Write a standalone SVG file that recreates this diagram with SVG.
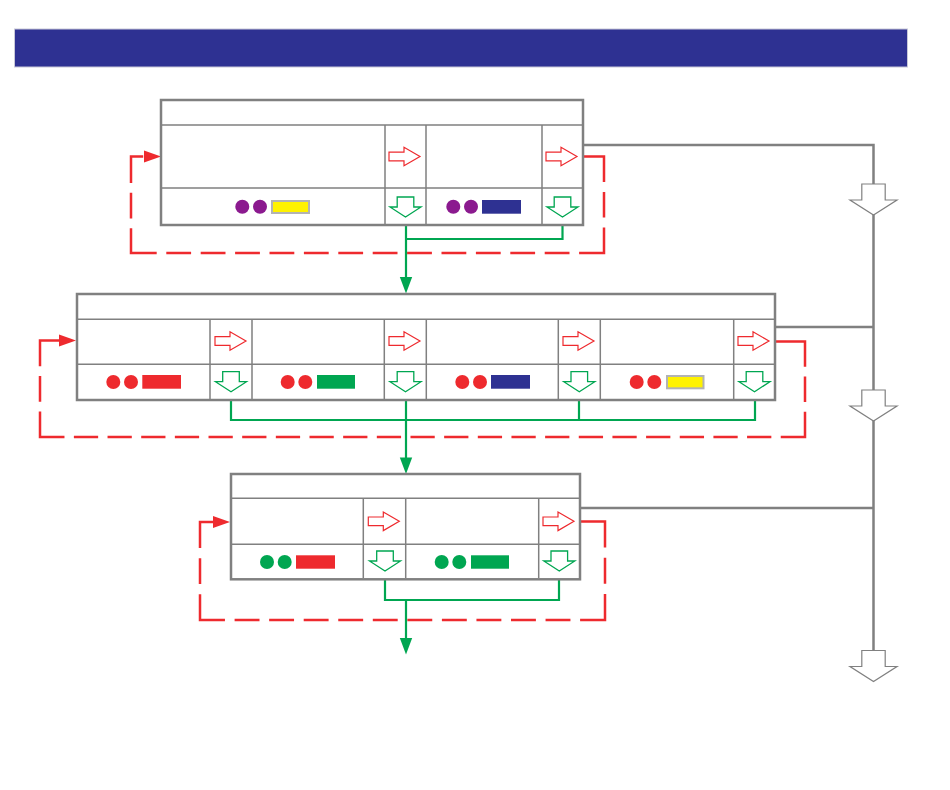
<svg xmlns="http://www.w3.org/2000/svg" width="950" height="790" viewBox="0 0 950 790">
<style>
.outer{fill:#fff;stroke:#808080;stroke-width:2.5}
.inner{stroke:#808080;stroke-width:1.5;fill:none}
.ra{fill:#fff;stroke:#ee2a2e;stroke-width:1.2}
.ga{fill:#fff;stroke:#00a651;stroke-width:1.3}
.gyarr{fill:#fff;stroke:#808080;stroke-width:1.2}
.gline{stroke:#00a651;stroke-width:2.2;fill:none}
.gray{stroke:#808080;stroke-width:2.5;fill:none}
.dash{stroke:#ee2a2e;stroke-width:2.5;fill:none;stroke-linejoin:miter}
.pu{fill:#8b1a8f}.rd{fill:#ee2a2e}.gn{fill:#00a651}.nv{fill:#2e3192}
.ye{fill:#fff200;stroke:#b3b3b3;stroke-width:2}
</style>
<defs>
<path id="rarrow" d="M-31,-4.3 H-16 V-9.3 L0,0 L-16,9.3 V4.3 H-31 Z"/>
<path id="garrow" d="M-8.3,-20 H8.3 V-10 H15.5 L0,0 L-15.5,-10 H-8.3 Z"/>
<path id="gyarrow" d="M-11.7,-31 H11.7 V-15 H23.5 L0,0 L-23.5,-15 H-11.7 Z"/>
<path id="ghead" d="M-6.2,-16.5 H6.2 L0,0 Z"/>
<path id="rhead" d="M-17,-6 V6 L0,0 Z"/>
</defs>
<rect id="title-bar" x="14.5" y="29" width="893" height="38" fill="#2e3192" stroke="#c8c8d8" stroke-width="1"/>
<g id="connectors">
<path class="gray" d="M583,145 H873.5 V650"/>
<path class="gray" d="M775,327 H873.5"/>
<path class="gray" d="M580,508 H873.5"/>
<use href="#gyarrow" class="gyarr" x="873.5" y="215"/>
<use href="#gyarrow" class="gyarr" x="873.5" y="421"/>
<use href="#gyarrow" class="gyarr" x="873.5" y="681.5"/>
<path class="dash" d="M583,156.5 H604 V253 H131 V156.5 H144" stroke-dasharray="46.6 9.9 25.6 9.9 50.4 9.6 24.8 9.6 24.8 9.6 24.8 9.6 24.8 9.6 24.8 9.6 24.8 9.6 24.8 9.6 24.8 9.6 24.8 9.6 24.8 9.6 24.8 9.6 24.8 9.6 50.4 9.9 25.6 9.9 38.6 200"/>
<use href="#rhead" x="161" y="156.5" fill="#ee2a2e"/>
<path class="dash" d="M775,341.5 H805 V437 H40 V340.5 H60" stroke-dasharray="55.3 9.8 25.3 9.8 49.56 9.4 24.26 9.4 24.26 9.4 24.26 9.4 24.26 9.4 24.26 9.4 24.26 9.4 24.26 9.4 24.26 9.4 24.26 9.4 24.26 9.4 24.26 9.4 24.26 9.4 24.26 9.4 24.26 9.4 24.26 9.4 24.26 9.4 24.26 9.4 24.26 9.4 24.26 9.4 24.26 9.4 24.26 9.4 49.86 9.9 25.6 9.9 45.6 200"/>
<use href="#rhead" x="76" y="340.5" fill="#ee2a2e"/>
<path class="dash" d="M580,521.5 H605 V620 H200 V522 H214" stroke-dasharray="51.1 10.1 26.1 10.1 51 9.65 24.9 9.65 24.9 9.65 24.9 9.65 24.9 9.65 24.9 9.65 24.9 9.65 24.9 9.65 24.9 9.65 24.9 9.65 24.9 9.65 50.8 10.1 25.9 10.1 39.9 200"/>
<use href="#rhead" x="230" y="522" fill="#ee2a2e"/>
<path class="gline" d="M562.5,217 V239 H406 M406,217 V278"/>
<use href="#ghead" x="406" y="293.5" fill="#00a651"/>
<path class="gline" d="M231,392 V420 H755 V392 M406,392 V458 M579,392 V420"/>
<use href="#ghead" x="406" y="474" fill="#00a651"/>
<path class="gline" d="M385,571 V600 H559 V571 M406,600 V638"/>
<use href="#ghead" x="406" y="654.5" fill="#00a651"/>
</g>
<g id="block1">
<rect class="outer" x="161" y="100" width="422" height="125"/>
<path class="inner" d="M162,125 H582 M162,188 H582 M385,125 V224 M426,125 V224 M542,125 V224"/>
<use href="#rarrow" class="ra" x="420" y="156.5"/>
<use href="#rarrow" class="ra" x="577" y="156.5"/>
<use href="#garrow" class="ga" x="405.5" y="217"/>
<use href="#garrow" class="ga" x="562.5" y="217"/>
<circle class="pu" cx="242.3" cy="206.7" r="7"/><circle class="pu" cx="260" cy="206.7" r="7"/>
<rect class="ye" x="272" y="201" width="37" height="12"/>
<circle class="pu" cx="453.3" cy="206.7" r="7"/><circle class="pu" cx="471" cy="206.7" r="7"/>
<rect class="nv" x="482" y="200" width="39" height="13.7"/>
</g>
<g id="block2">
<rect class="outer" x="77" y="294" width="698" height="106"/>
<path class="inner" d="M78,319.3 H774 M78,364.3 H774 M210,319.3 V399 M252,319.3 V399 M384.3,319.3 V399 M426.3,319.3 V399 M558.3,319.3 V399 M600.3,319.3 V399 M733.7,319.3 V399"/>
<use href="#rarrow" class="ra" x="246" y="341"/>
<use href="#rarrow" class="ra" x="420" y="341"/>
<use href="#rarrow" class="ra" x="594" y="341"/>
<use href="#rarrow" class="ra" x="769" y="341"/>
<use href="#garrow" class="ga" x="231" y="391.7"/>
<use href="#garrow" class="ga" x="405.5" y="391.7"/>
<use href="#garrow" class="ga" x="579.3" y="391.7"/>
<use href="#garrow" class="ga" x="754.5" y="391.7"/>
<circle class="rd" cx="113.3" cy="382" r="7"/><circle class="rd" cx="131" cy="382" r="7"/>
<rect class="rd" x="142.3" y="375" width="38.7" height="13.7"/>
<circle class="rd" cx="287.7" cy="382" r="7"/><circle class="rd" cx="305.3" cy="382" r="7"/>
<rect class="gn" x="317" y="375" width="38" height="13.7"/>
<circle class="rd" cx="462.3" cy="382" r="7"/><circle class="rd" cx="480" cy="382" r="7"/>
<rect class="nv" x="491" y="375" width="39" height="13.7"/>
<circle class="rd" cx="636.7" cy="382" r="7"/><circle class="rd" cx="654.3" cy="382" r="7"/>
<rect class="ye" x="667" y="376" width="36.5" height="12.3"/>
</g>
<g id="block3">
<rect class="outer" x="231" y="474" width="349" height="105.3"/>
<path class="inner" d="M232,498.3 H579 M232,544.3 H579 M363.3,498.3 V578 M405.7,498.3 V578 M538.7,498.3 V578"/>
<use href="#rarrow" class="ra" x="399.3" y="521.3"/>
<use href="#rarrow" class="ra" x="574" y="521.3"/>
<use href="#garrow" class="ga" x="385" y="571"/>
<use href="#garrow" class="ga" x="559.3" y="571"/>
<circle class="gn" cx="267" cy="562" r="7"/><circle class="gn" cx="284.7" cy="562" r="7"/>
<rect class="rd" x="296" y="555.3" width="39" height="13.4"/>
<circle class="gn" cx="441.7" cy="562" r="7"/><circle class="gn" cx="459.3" cy="562" r="7"/>
<rect class="gn" x="471" y="555.3" width="38" height="13.4"/>
</g>
</svg>
